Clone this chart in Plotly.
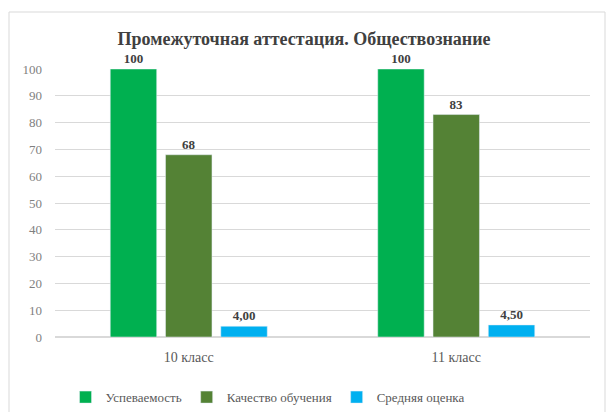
import plotly.graph_objects as go

classes = ["10 класс", "11 класс"]
series_names = ["Успеваемость", "Качество обучения", "Средняя оценка"]
uspevaemost = [100, 100]
kachestvo = [68, 83]
srednyaya = [4.00, 4.50]
labels_sred = ["4,00", "4,50"]

colors = ["#00B050", "#548235", "#00B0F0"]
font_family = "Liberation Serif, serif"

fig = go.Figure()
for name, vals, txt, col in zip(series_names,
                                [uspevaemost, kachestvo, srednyaya],
                                [[str(v) for v in uspevaemost], [str(v) for v in kachestvo], labels_sred],
                                colors):
    fig.add_trace(go.Bar(x=classes, y=vals, name=name, marker_color=col,
                         text=txt, textposition="outside", cliponaxis=False,
                         texttemplate="<b>%{text}</b>",
                         textfont=dict(family=font_family, size=13, color="#404040")))

fig.update_layout(
    width=608, height=412,
    margin=dict(l=55, r=18, t=69, b=75, autoexpand=False),
    paper_bgcolor="white", plot_bgcolor="white",
    barmode="group", bargap=0.38, bargroupgap=0.16,
    font=dict(family=font_family, color="#595959"),
    title=dict(text="<b>Промежуточная аттестация. Обществознание</b>",
               x=0.5, xanchor="center", y=0.905, yanchor="middle",
               font=dict(family=font_family, size=18, color="#404040")),
    yaxis=dict(range=[0, 100], dtick=10, showgrid=True, gridcolor="#D9D9D9",
               zeroline=True, zerolinecolor="#D9D9D9",
               tickfont=dict(family=font_family, size=13, color="#7F7F7F"),
               ticks="", ticklabelstandoff=12),
    xaxis=dict(showline=False, tickfont=dict(family=font_family, size=14, color="#595959"),
               ticks="", ticklabelstandoff=10),
    legend=dict(orientation="h", x=0.44, xanchor="center", xref="container",
                y=0.036, yanchor="middle", yref="container",
                font=dict(family=font_family, size=13, color="#595959"),
                traceorder="normal", itemwidth=30),
    shapes=[dict(type="rect", xref="paper", yref="paper",
                 x0=(9 - 55) / 535, x1=(605 - 55) / 535,
                 y0=-0.5, y1=(337 - 12) / 268,
                 line=dict(color="#D9D9D9", width=1), layer="below")],
)

# the page body has a default 8px margin; drop it so the figure sits at 0,0
fig.write_html("out.html", config={"displayModeBar": False},
               post_script="document.body.style.margin='0';")
